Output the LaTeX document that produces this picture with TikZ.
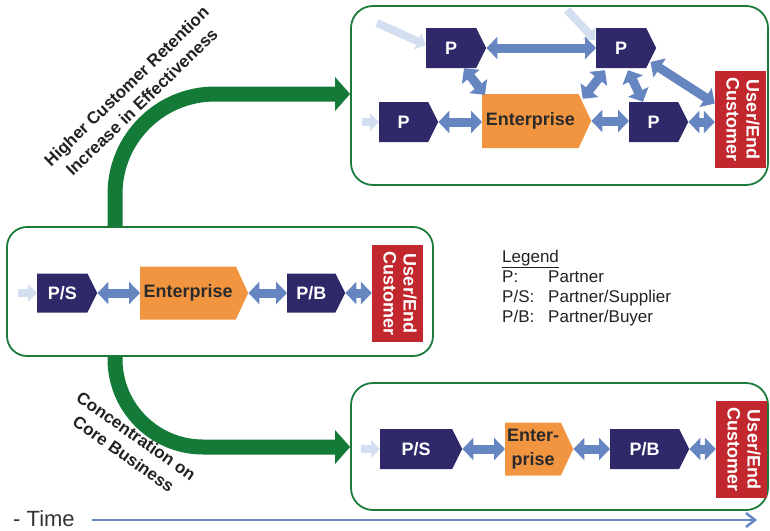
\documentclass[tikz,border=0pt]{standalone}
\usepackage{fontspec}
\usepackage{graphicx}
\setmainfont{Liberation Sans}
\usetikzlibrary{shapes.symbols,arrows.meta,calc}

\definecolor{navy}{HTML}{2F2869}
\definecolor{eorange}{HTML}{F29541}
\definecolor{etext}{HTML}{2A2A2A}
\definecolor{ured}{HTML}{C1272D}
\definecolor{ablue}{HTML}{6686C2}
\definecolor{lblue}{HTML}{D3DFF0}
\definecolor{agreen}{HTML}{137A38}
\definecolor{sgreen}{HTML}{1C7B3B}
\definecolor{ntext}{HTML}{222222}
\definecolor{ltext}{HTML}{222222}
\definecolor{ttext}{HTML}{333333}

\newcommand\lblfont{\bfseries\fontsize{18}{20}\selectfont}
\newcommand\ucust{\rotatebox{-90}{\begin{tabular}{@{}c@{}}User/End\\Customer\end{tabular}}}

\begin{document}
\begin{tikzpicture}[x=1pt,y=-1pt,
  stage/.style={draw=sgreen, line width=1.8pt, rounded corners=22pt, inner sep=0},
  chev/.style={signal, signal to=east, signal from=nowhere, inner sep=0, anchor=west, font=\lblfont},
  pnode/.style={chev, fill=navy, text=white, signal pointer angle=127, minimum height=40pt},
  enode/.style={chev, fill=eorange, text=etext, signal pointer angle=130, minimum height=54pt},
  unode/.style={rectangle, fill=ured, text=white, font=\lblfont, minimum width=51pt, minimum height=97pt, inner sep=0},
  dbl/.style={draw=ablue, line width=9pt, {Triangle[length=11pt,width=22pt]}-{Triangle[length=11pt,width=22pt]}},
  lin/.style={draw=lblue, line width=8pt, -{Triangle[length=9pt,width=17pt]}},
  garrow/.style={draw=agreen, line width=15pt, -{Triangle[length=15pt,width=33pt]}},
  note/.style={font=\bfseries\fontsize{17}{22}\selectfont, text=ntext, align=center, inner sep=0}
]
\useasboundingbox (0,0) rectangle (770,530);

% three stages
\node[stage, minimum width=417pt, minimum height=179pt] (s1) at (559.5,95.5) {};
\node[stage, minimum width=426pt, minimum height=129pt, rounded corners=20pt] (s2) at (220,291.5) {};
\node[stage, minimum width=417pt, minimum height=127pt] (s3) at (559.5,446.5) {};

% green transitions
\coordinate (gu) at (115,94);
\coordinate (gd) at (115,447);
\draw[garrow, rounded corners=100pt] (s2.north -| gu) -- (gu) -- (s1.west |- gu);
\draw[garrow, rounded corners=88pt] (s2.south -| gd) -- (gd) -- (s3.west |- gd);

\node[note, rotate=44] (up) at (134,94) {Higher Customer Retention\\Increase in Effectiveness};
\node[note, rotate=-35] (down) at (130,445) {Concentration on\\Core Business};

% stage 1: network
\node[pnode, minimum width=60pt] (ptl) at (426,48) {P};
\node[pnode, minimum width=60pt] (ptr) at (596,48) {P};
\node[pnode, minimum width=59pt] (pl) at (379,122) {P};
\node[enode, minimum width=109pt] (ent1) at (482,121) {Enterprise};
\node[pnode, minimum width=59pt] (pr) at (629,122) {P};
\node[unode] (uc1) at (740.5,119.5) {\ucust};

\coordinate (la1) at (377,23);
\coordinate (la2) at (567,10);
\coordinate (la3) at (362,122);
\draw[lin] (la1) -- ([yshift=3pt]ptl.west);
\draw[lin] (la2) -- ([xshift=-1pt,yshift=8pt]ptr.west);
\draw[lin] (la3) -- (pl.west);

\draw[dbl] (ptl.east) -- (ptr.west);
\draw[dbl] (pl.east) -- (ent1.west |- pl.east);
\draw[dbl] (ent1.east) -- (pr.west |- ent1.east);
\draw[dbl] (pr.east) -- (uc1.west |- pr.east);
\draw[dbl] ([xshift=38pt]ptl.south west) -- ([xshift=3pt,yshift=-1pt]ent1.north west);
\draw[dbl] ([xshift=9pt,yshift=-2pt]ptr.south west) -- ([xshift=4pt,yshift=-5pt]ent1.north east);
\draw[dbl] ([xshift=32pt,yshift=-2pt]ptr.south west) -- ([xshift=14pt]pr.north west);
\draw[dbl] ([xshift=-6pt,yshift=-14pt]ptr.east) -- ([yshift=16pt]uc1.west);

% stage 0: chain
\node[pnode, minimum width=60pt, minimum height=39pt] (ps2) at (37,293) {P/S};
\node[enode, minimum width=108pt, minimum height=53pt] (ent2) at (140,293) {Enterprise};
\node[pnode, minimum width=58pt, minimum height=39pt] (pb2) at (287,293) {P/B};
\node[unode] (uc2) at (397.5,293.5) {\ucust};

\coordinate (lb) at (18,293);
\draw[lin] (lb) -- (ps2.west);
\draw[dbl] (ps2.east) -- (ent2.west);
\draw[dbl] (ent2.east) -- (pb2.west);
\draw[dbl] (pb2.east) -- (uc2.west |- pb2.east);

% stage 2: focused chain
\node[pnode, minimum width=82pt] (ps3) at (380,449) {P/S};
\node[enode, minimum width=68pt, minimum height=53pt, align=center, font=\bfseries\fontsize{18}{24}\selectfont] (ent3) at (505,449) {Enter-\\prise};
\node[pnode, minimum width=79pt] (pb3) at (610,449) {P/B};
\node[unode] (uc3) at (741.5,449.5) {\ucust};

\coordinate (lc) at (361,449);
\draw[lin] (lc) -- (ps3.west);
\draw[dbl] (ps3.east) -- (ent3.west);
\draw[dbl] (ent3.east) -- (pb3.west);
\draw[dbl] (pb3.east) -- (uc3.west |- pb3.east);

% legend
\node[anchor=base west, font=\fontsize{17}{20}\selectfont, text=ltext, inner sep=0] (legend) at (502,262)
  {\begin{tabular}[t]{@{}p{46pt}@{}l@{}}
   \multicolumn{2}{@{}l@{}}{\underline{Legend}}\\
   P: & Partner\\
   P/S: & Partner/Supplier\\
   P/B: & Partner/Buyer
   \end{tabular}};

% time axis
\node[anchor=base west, font=\fontsize{22}{22}\selectfont, text=ttext, inner sep=0] (time) at (13,526) {- Time};
\coordinate (t0) at (92,520);
\coordinate (t1) at (757,520);
\draw[draw=ablue, line width=2.5pt, -{Straight Barb[length=9pt,width=14pt]}] (t0) -- (t1);
\end{tikzpicture}
\end{document}
